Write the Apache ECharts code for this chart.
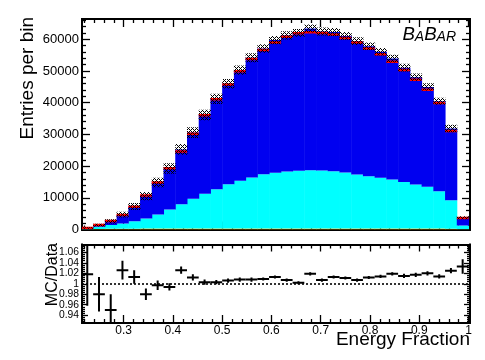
<!DOCTYPE html>
<html><head><meta charset="utf-8">
<script src="https://cdn.jsdelivr.net/npm/echarts@6/dist/echarts.min.js"></script>
<style>html,body{margin:0;padding:0;background:#fff}#c{width:485px;height:360px}</style>
</head><body><div id="c"></div>
<script>
// ---------------- data ----------------
const binEdges = [0.2143,0.2381,0.2619,0.2857,0.3095,0.3333,0.3571,0.3810,0.4048,0.4286,0.4524,0.4762,0.5000,0.5238,0.5476,0.5714,0.5952,0.6190,0.6429,0.6667,0.6905,0.7143,0.7381,0.7619,0.7857,0.8095,0.8333,0.8571,0.8810,0.9048,0.9286,0.9524,0.9762,1.0000];
const dataCounts = [450,1400,2700,4550,7150,10750,14850,19350,24600,30200,36000,41100,45700,49900,53750,56600,59000,60800,61900,62200,62000,61500,60400,59000,57100,55300,52900,50300,47250,44100,39900,31100,3600];
const mcYellow = [0,150,200,250,250,300,300,300,300,300,300,300,300,300,300,300,300,300,300,300,300,300,300,300,300,300,300,300,300,300,300,250,100];
const mcCyan = [200,750,1250,1650,2350,3170,4430,6000,7700,9400,10950,12400,14000,15050,16100,17150,17600,18000,18200,18400,18300,18100,17700,17050,16500,16000,15500,14700,13900,13150,11800,9000,1200];
const mcBlue = [258,472,1115,2768,4643,7065,10075,12934,17240,20862,24858,28523,31674,34949,37780,39659,41867,42926,43524,44682,43834,43900,43064,42063,40985,39774,38105,36055,33853,31532,28359,22628,2419];
const mcErr = [250,450,700,900,1100,1300,1500,1650,1700,1700,1650,1600,1500,1450,1400,1350,1300,1300,1250,1250,1250,1250,1250,1250,1200,1200,1200,1200,1150,1150,1100,1200,500];
const ratio = [1.018,0.980,0.950,1.026,1.013,0.980,0.997,0.994,1.026,1.012,1.003,1.003,1.006,1.008,1.008,1.009,1.013,1.007,1.002,1.019,1.007,1.013,1.011,1.007,1.012,1.014,1.019,1.015,1.017,1.020,1.014,1.025,1.033];
const ratioErr = [0.06,0.033,0.03,0.018,0.013,0.011,0.009,0.007,0.007,0.006,0.005,0.004,0.004,0.004,0.004,0.003,0.003,0.003,0.003,0.003,0.003,0.003,0.003,0.003,0.003,0.003,0.003,0.004,0.004,0.004,0.004,0.005,0.014];
const topYTicks = [0,10000,20000,30000,40000,50000,60000];
const xTicks = [0.3,0.4,0.5,0.6,0.7,0.8,0.9,1.0];
const ratioYTicks = [0.94,0.96,0.98,1.0,1.02,1.04,1.06];

// ---------------- layout / style ----------------
const X_MIN = 0.2155, X_MAX = 1.003;
const TOP_MAX = 66400;
const R_MIN = 0.925, R_MAX = 1.075;
const FONT = '"Liberation Sans", Arial, sans-serif';

function minorList(from, to, step, majors) {
  const out = [];
  for (let v = from; v <= to + step * 1e-6; v += step) {
    const r = Math.round(v * 100000) / 100000;
    if (!majors.some(m => Math.abs(m - r) < step * 1e-3)) out.push(r);
  }
  return out;
}
const xMinor = minorList(0.22, 1.0, 0.02, xTicks);
const topYMinor = minorList(2000, 66000, 2000, topYTicks);
const ratioYMinor = minorList(0.928, 1.072, 0.004, ratioYTicks);

function fmt(v) { return String(Math.round(v * 1000) / 1000); }

function axis(grid, pos, min, max, ticks, len, label) {
  return {
    type: 'value', gridIndex: grid, position: pos, min: min, max: max,
    axisLine: { show: true, onZero: false, lineStyle: { color: '#000', width: 2 } },
    axisTick: { show: true, inside: true, length: len, customValues: ticks, lineStyle: { color: '#000', width: 1.3 } },
    axisLabel: label ? Object.assign({ show: true, customValues: ticks, formatter: fmt, color: '#000', fontFamily: FONT }, label) : { show: false },
    splitLine: { show: false }
  };
}

const xAxes = [
  axis(0, 'bottom', X_MIN, X_MAX, xTicks, 8, null),
  axis(0, 'bottom', X_MIN, X_MAX, xMinor, 4, null),
  axis(0, 'top', X_MIN, X_MAX, xTicks, 8, null),
  axis(0, 'top', X_MIN, X_MAX, xMinor, 4, null),
  axis(1, 'bottom', X_MIN, X_MAX, xTicks, 8, { fontSize: 12, margin: 2 }),
  axis(1, 'bottom', X_MIN, X_MAX, xMinor, 4, null),
  axis(1, 'top', X_MIN, X_MAX, xTicks, 7, null),
  axis(1, 'top', X_MIN, X_MAX, xMinor, 4, null)
];
const yAxes = [
  axis(0, 'left', 0, TOP_MAX, topYTicks, 8, { fontSize: 13, margin: 3, formatter: v => String(v) }),
  axis(0, 'left', 0, TOP_MAX, topYMinor, 4, null),
  axis(0, 'right', 0, TOP_MAX, topYTicks, 8, null),
  axis(0, 'right', 0, TOP_MAX, topYMinor, 4, null),
  axis(1, 'left', R_MIN, R_MAX, ratioYTicks, 6, { fontSize: 10.3, margin: 3 }),
  axis(1, 'left', R_MIN, R_MAX, ratioYMinor, 3, null),
  axis(1, 'right', R_MIN, R_MAX, ratioYTicks, 6, null),
  axis(1, 'right', R_MIN, R_MAX, ratioYMinor, 3, null)
];

// stacked histogram rectangles
const nBins = dataCounts.length;
const yellowData = [], cyanData = [], blueData = [], bandData = [], dataLine = [], ratioData = [];
for (let i = 0; i < nBins; i++) {
  const lo = binEdges[i], hi = binEdges[i + 1];
  const y0 = 0, y1 = y0 + mcYellow[i], y2 = y1 + mcCyan[i], y3 = y2 + mcBlue[i];
  yellowData.push([lo, hi, y0, y1]);
  cyanData.push([lo, hi, y1, y2]);
  blueData.push([lo, hi, y2, y3]);
  bandData.push([lo, hi, y3 - mcErr[i], y3 + mcErr[i]]);
  dataLine.push([lo, hi, dataCounts[i]]);
  ratioData.push([lo, hi, ratio[i], ratioErr[i]]);
}

function rectRender(fill) {
  return function (params, api) {
    const p1 = api.coord([api.value(0), api.value(3)]);
    const p2 = api.coord([api.value(1), api.value(2)]);
    return { type: 'rect', shape: { x: p1[0], y: p1[1], width: p2[0] - p1[0] + 0.5, height: p2[1] - p1[1] }, style: { fill: fill } };
  };
}

const hatch = document.createElement('canvas');
hatch.width = 4; hatch.height = 4;
(function () {
  const g = hatch.getContext('2d');
  g.fillStyle = '#000';
  for (let x = 0; x < 4; x++) for (let y = 0; y < 4; y++) {
    if ((x + y) % 4 === 0 || (x - y + 4) % 4 === 0) g.fillRect(x, y, 1, 1);
  }
})();

function histSeries(name, data, fill) {
  return { type: 'custom', name: name, xAxisIndex: 0, yAxisIndex: 0, clip: true, silent: true,
    encode: { x: [0, 1], y: [2, 3] }, renderItem: rectRender(fill), data: data };
}

const series = [
  histSeries('yellow', yellowData, '#ffcc00'),
  histSeries('cyan', cyanData, '#00ffff'),
  histSeries('blue', blueData, '#0000f0'),
  {
    type: 'custom', name: 'data', xAxisIndex: 0, yAxisIndex: 0, clip: true, silent: true,
    encode: { x: [0, 1], y: 2 },
    renderItem: function (params, api) {
      const a = api.coord([api.value(0), api.value(2)]);
      const b = api.coord([api.value(1), api.value(2)]);
      return { type: 'line', shape: { x1: a[0], y1: a[1], x2: b[0], y2: b[1] }, style: { stroke: '#ff0000', lineWidth: 2.5 } };
    },
    data: dataLine
  },
  histSeries('band', bandData, { image: hatch, repeat: 'repeat' }),
  {
    type: 'custom', name: 'ratio', xAxisIndex: 4, yAxisIndex: 4, clip: true, silent: true,
    encode: { x: [0, 1], y: 2 },
    renderItem: function (params, api) {
      const lo = api.value(0), hi = api.value(1), r = api.value(2), e = api.value(3);
      const c = (lo + hi) / 2;
      const h1 = api.coord([lo, r]), h2 = api.coord([hi, r]);
      const v1 = api.coord([c, r - e]), v2 = api.coord([c, r + e]);
      return { type: 'group', children: [
        { type: 'line', shape: { x1: h1[0], y1: h1[1], x2: h2[0], y2: h2[1] }, style: { stroke: '#000', lineWidth: 2 } },
        { type: 'line', shape: { x1: v1[0], y1: v1[1], x2: v2[0], y2: v2[1] }, style: { stroke: '#000', lineWidth: 2 } }
      ] };
    },
    markLine: { silent: true, symbol: 'none', label: { show: false }, animation: false,
      lineStyle: { color: '#000', width: 1.6, type: [2, 2] }, data: [{ yAxis: 1 }] },
    data: ratioData, z: 3
  }
];

const option = {
  animation: false,
  backgroundColor: '#fff',
  grid: [
    { left: 82, top: 19, width: 388, height: 210.5, containLabel: false },
    { left: 82, top: 244.5, width: 388, height: 78.5, containLabel: false }
  ],
  xAxis: xAxes,
  yAxis: yAxes,
  series: series,
  graphic: [
    { type: 'text', x: 27.5, y: 17, rotation: Math.PI / 2, silent: true,
      style: { text: 'Entries per bin', font: '19px ' + FONT, fill: '#000', align: 'right', verticalAlign: 'middle' } },
    { type: 'text', x: 52.5, y: 243, rotation: Math.PI / 2, silent: true,
      style: { text: 'MC/Data', font: '16px ' + FONT, fill: '#000', align: 'right', verticalAlign: 'middle' } },
    { type: 'text', x: 470, y: 340, silent: true,
      style: { text: 'Energy Fraction', font: '19px ' + FONT, fill: '#000', align: 'right', verticalAlign: 'middle' } },
    { type: 'text', x: 456, y: 44, silent: true,
      style: { text: '{b|B}{s|A}{b|B}{s|AR}', align: 'right', verticalAlign: 'bottom', fill: '#000',
        rich: { b: { fontSize: 18.6, fontStyle: 'italic', fontFamily: FONT, fill: '#000', verticalAlign: 'bottom' },
                s: { fontSize: 14, fontStyle: 'italic', fontFamily: FONT, fill: '#000', verticalAlign: 'bottom' } } } }
  ]
};

const chart = echarts.init(document.getElementById('c'), null, { renderer: 'canvas', width: 485, height: 360 });
chart.setOption(option);
</script>
</body></html>
